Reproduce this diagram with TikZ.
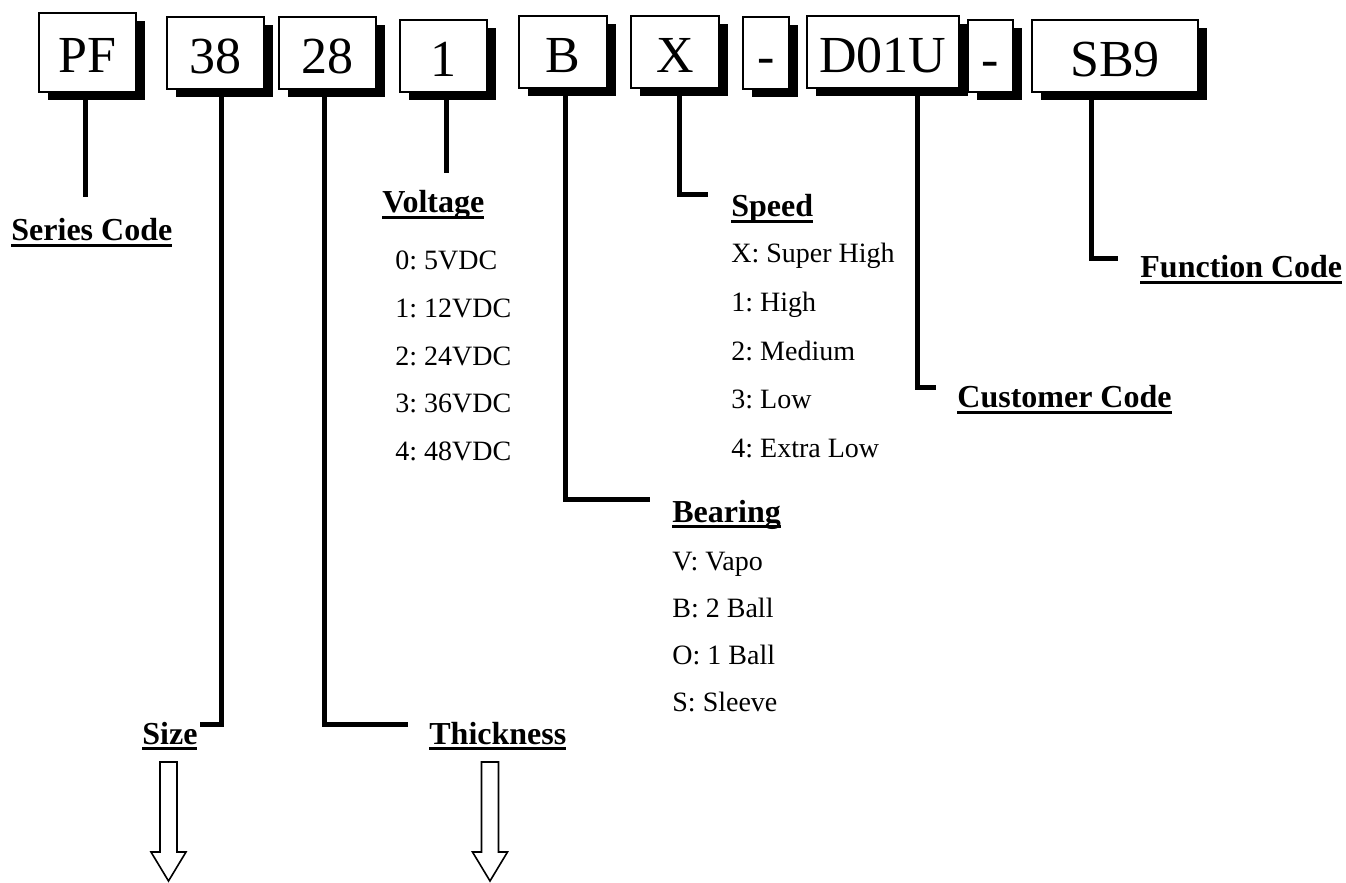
\documentclass[tikz,border=0pt]{standalone}
\usepackage{fontspec}
\setmainfont{Liberation Serif}
\usetikzlibrary{shadows}
\frenchspacing

\newcommand{\lblul}[1]{\setbox0\hbox{#1}\rlap{\rule[-3.2pt]{\wd0}{1.6pt}}\box0}

\begin{document}
\begin{tikzpicture}[x=0.5pt,y=-0.5pt]
  \tikzset{code box/.style={draw,line width=1pt,fill=white,inner sep=0pt,minimum width=#1,minimum height=36pt,
      text height=20.5pt,text depth=0pt,font=\fontsize{26}{30}\selectfont,
      drop shadow={shadow xshift=4.5pt,shadow yshift=-4pt,fill=black,opacity=1}},
    lead/.style={line width=2.5pt},
    heading/.style={anchor=base west,inner sep=0pt,font=\fontsize{16}{19}\selectfont\bfseries},
    item/.style={anchor=base west,inner sep=0pt,font=\fontsize{14}{17}\selectfont},
    down arrow/.style={draw,line width=0.8pt,fill=white}}
  \useasboundingbox (0,0) rectangle (1346,883);

  % free ends and bends of the leads
  \coordinate (pf end) at (85,197);
  \coordinate (volt end) at (446,173);
  \coordinate (size end) at (200,724.5);
  \coordinate (thick end) at (408,724.5);
  \coordinate (bear end) at (650,499);
  \coordinate (speed end) at (708,195);
  \coordinate (cust end) at (936,387);
  \coordinate (func end) at (1118,259);

  % part number boxes
  \node[code box=48.5pt, minimum height=39.5pt] (pf) at (87.5,52.5) {PF};
  \node[code box=48.5pt] (size) at (215.5,53) {38};
  \node[code box=48.5pt] (thick) at (327.5,53) {28};
  \node[code box=43.5pt] (volt) at (443.5,56) {1};
  \node[code box=44pt] (bear) at (563,52.5) {B};
  \node[code box=44pt] (speed) at (675,52.5) {X};
  \node[code box=23pt] (dash a) at (766,53) {-};
  \node[code box=76pt] (cust) at (883,52) {D01U};
  \node[code box=22.5pt] (dash b) at (990.5,56.5) {-};
  \node[code box=83pt] (func) at (1115,56.5) {SB9};

  % leads
  \draw[lead] (pf.south -| pf end) -- (pf end);
  \draw[lead] (volt.south -| volt end) -- (volt end);
  \draw[lead] ([xshift=2.75pt]size.south) |- (size end);
  \draw[lead] ([xshift=-1.75pt]thick.south) |- (thick end);
  \draw[lead] ([xshift=1pt]bear.south) |- (bear end);
  \draw[lead] ([xshift=2pt]speed.south) |- (speed end);
  \draw[lead] ([xshift=17pt]cust.south) |- (cust end);
  \draw[lead] ([xshift=-12pt]func.south) |- (func end);

  % headings
  \node[heading] (series lbl) at (11,241) {\lblul{Series Code}};
  \node[heading] (volt lbl) at (382,213) {\lblul{Voltage}};
  \node[heading] (speed lbl) at (731,217) {\lblul{Speed}};
  \node[heading] (bear lbl) at (672,522) {\lblul{Bearing}};
  \node[heading] (cust lbl) at (957,408) {\lblul{Customer Code}};
  \node[heading] (func lbl) at (1140,278) {\lblul{Function Code}};
  \node[heading] (size lbl) at (142,744) {\lblul{Size}};
  \node[heading] (thick lbl) at (429,744) {\lblul{Thickness}};

  % option lists
  \foreach \t [count=\i from 0] in {0: 5VDC,1: 12VDC,2: 24VDC,3: 36VDC,4: 48VDC}
    \node[item] (volt item \i) at (395,270+47.5*\i) {\t};
  \foreach \t [count=\i from 0] in {X: Super High,1: High,2: Medium,3: Low,4: Extra Low}
    \node[item] (speed item \i) at (731,263+48.5*\i) {\t};
  \foreach \t [count=\i from 0] in {V: Vapo,B: 2 Ball,O: 1 Ball,S: Sleeve}
    \node[item] (bear item \i) at (672,570+47.3*\i) {\t};

  % hollow arrows under Size and Thickness
  \foreach \ax in {168.5,490}
    \draw[down arrow] (\ax-8.5,762) -- (\ax-8.5,852) -- (\ax-17.5,852) -- (\ax,881)
      -- (\ax+17.5,852) -- (\ax+8.5,852) -- (\ax+8.5,762) -- cycle;
\end{tikzpicture}
\end{document}
